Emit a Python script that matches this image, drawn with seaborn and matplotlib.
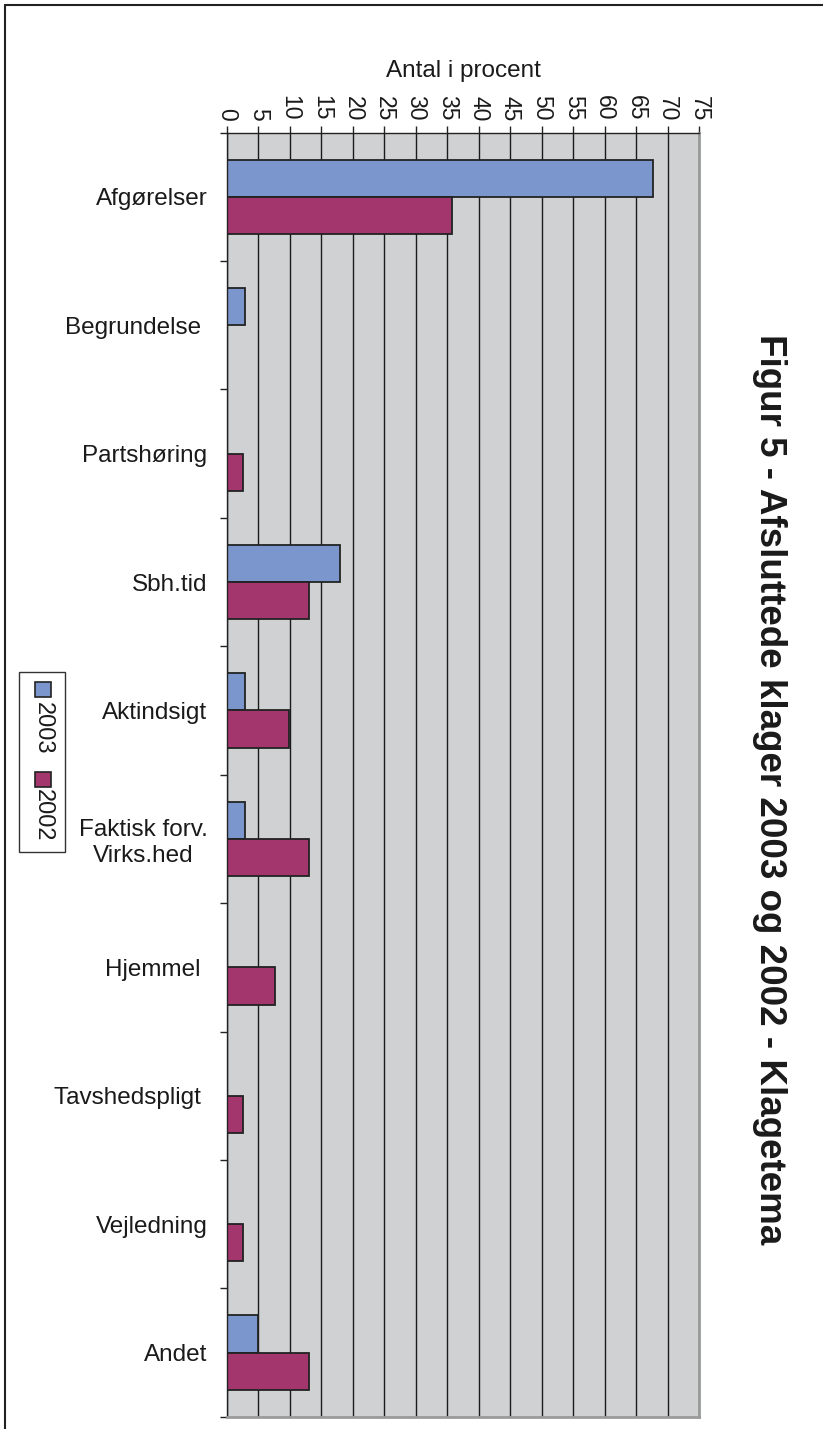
import numpy as np
import pandas as pd
import matplotlib
matplotlib.use("Agg")
import matplotlib.pyplot as plt
from matplotlib.patches import Rectangle
from matplotlib.lines import Line2D
import seaborn as sns

# Complaint themes (top to bottom) and share of closed complaints in percent
categories = ["Afgørelser", "Begrundelse ", "Partshøring", "Sbh.tid", "Aktindsigt",
              "Faktisk forv.\nVirks.hed", "Hjemmel ", "Tavshedspligt ", "Vejledning", "Andet"]
years = ["2003", "2002"]
values_2003 = [67.7, 2.8, 0, 18.0, 2.8, 2.8, 0, 0, 0, 5.0]
values_2002 = [35.8, 0, 2.5, 13.0, 9.8, 13.0, 7.6, 2.5, 2.5, 13.0]
x_ticks = list(range(0, 80, 5))
title = "Figur 5 - Afsluttede klager 2003 og 2002 - Klagetema"
x_label = "Antal i procent"
colors = ["#7b96cc", "#a3366c"]

sns.set_style("white")
plt.rcParams["font.family"] = ["Liberation Sans", "DejaVu Sans"]

df = pd.DataFrame({
    "Klagetema": categories * 2,
    "År": [years[0]] * len(categories) + [years[1]] * len(categories),
    "Procent": values_2003 + values_2002,
})

W, H = 823, 1429
fig = plt.figure(figsize=(W / 100, H / 100), dpi=100)
ax = fig.add_axes([227 / W, 1 - 1416.7 / H, (699.3 - 227) / W, (1416.7 - 132.7) / H])

sns.barplot(data=df, y="Klagetema", x="Procent", hue="År", order=categories,
            hue_order=years, palette=colors, orient="h", width=0.58,
            edgecolor="#222222", linewidth=1.3, saturation=1, legend=False, ax=ax)

ax.set_facecolor("#d0d1d3")
ax.set_xlim(0, 75)
ax.set_ylim(len(categories) - 0.5, -0.5)

# value axis on top, labels turned a quarter clockwise
ax.xaxis.tick_top()
ax.xaxis.set_label_position("top")
ax.set_xticks(x_ticks)
ax.set_xticklabels([str(t) for t in x_ticks])
ax.tick_params(axis="x", which="major", top=True, bottom=False, length=5, width=1,
               direction="out", color="#222222", labelsize=16.5, labelrotation=-90,
               pad=3.5, labelcolor="#1a1a1a")
ax.set_xlabel(x_label, fontsize=17.5, labelpad=13, color="#1a1a1a")

# category labels, with tick marks between the groups
ax.set_yticks(range(len(categories)))
ax.set_yticklabels(categories, fontsize=17.5, color="#1a1a1a")
for lab in ax.get_yticklabels():
    lab.set_multialignment("center")
ax.set_ylabel("")
ax.tick_params(axis="y", which="major", length=0, pad=14)
ax.set_yticks(np.arange(-0.5, len(categories), 1), minor=True)
ax.tick_params(axis="y", which="minor", left=True, length=5, width=1,
               direction="out", color="#222222")

ax.grid(axis="x", color="#1a1a1a", lw=1)
ax.grid(axis="y", visible=False)
ax.set_axisbelow(True)

for side in ("top", "left"):
    ax.spines[side].set_color("#222222")
    ax.spines[side].set_linewidth(1)
for side in ("right", "bottom"):
    ax.spines[side].set_color("#9a9a9a")
    ax.spines[side].set_linewidth(2)

# title along the right side
fig.text(769 / W, 1 - 789 / H, title, rotation=-90, fontsize=26.5, fontweight="bold",
         ha="center", va="center", color="#1a1a1a")

# legend box, turned like the title
fig.add_artist(Rectangle((19 / W, 1 - 852 / H), 46 / W, 180 / H, transform=fig.transFigure,
                         facecolor="white", edgecolor="#333333", lw=1))
legend_rows = [(682, 728), (772, 815)]
for (sq_top, txt_mid), year, col in zip(legend_rows, years, colors):
    fig.add_artist(Rectangle((35 / W, 1 - (sq_top + 15) / H), 16 / W, 15 / H,
                             transform=fig.transFigure, facecolor=col,
                             edgecolor="#222222", lw=1.2))
    fig.text(43 / W, 1 - txt_mid / H, year, rotation=-90, fontsize=17,
             ha="center", va="center", color="#1a1a1a")

# page frame
fig.add_artist(Line2D([5 / W, 5 / W], [0, 1 - 5 / H], transform=fig.transFigure,
                      color="#222222", lw=1.5))
fig.add_artist(Line2D([5 / W, 1], [1 - 5 / H, 1 - 5 / H], transform=fig.transFigure,
                      color="#222222", lw=1.5))

fig.savefig("out.png", dpi=100)
